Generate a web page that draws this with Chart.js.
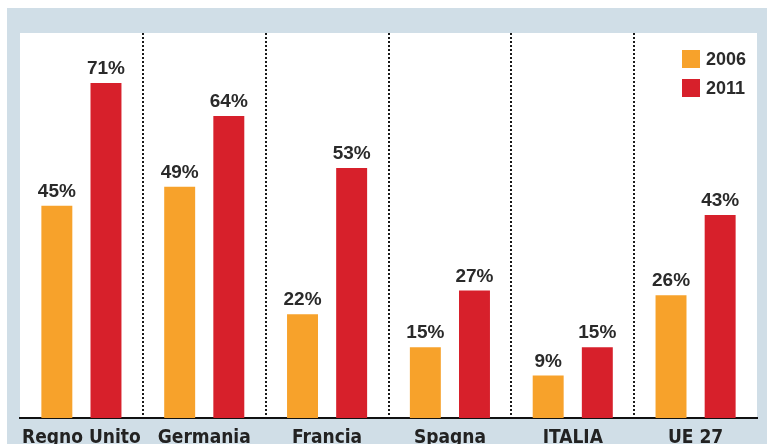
<!DOCTYPE html>
<html>
<head>
<meta charset="utf-8">
<script src="https://cdn.jsdelivr.net/npm/chart.js@4"></script>
<style>
  html, body { margin: 0; padding: 0; background: #ffffff; }
  canvas { display: block; }
</style>
</head>
<body>
<canvas id="c" width="767" height="444"></canvas>
<script>
const categories = ["Regno Unito", "Germania", "Francia", "Spagna", "ITALIA", "UE 27"];
const values2006 = [45, 49, 22, 15, 9, 26];
const values2011 = [71, 64, 53, 27, 15, 43];
const seriesLabels = ["2006", "2011"];
const seriesColors = ["#f7a22b", "#d7202b"];

const BLUE = "#d0dee7";
const TEXT = "#2a2a2a";
const numFont = "bold 19px 'Liberation Sans', Arial, sans-serif";
const legFont = "bold 18px 'Liberation Sans', Arial, sans-serif";
const catFontFamily = "'Liberation Sans Narrow', 'DejaVu Sans Condensed', 'Liberation Sans', sans-serif";

const bgPlugin = {
  id: "bg",
  beforeDraw(chart) {
    const {ctx, chartArea: a, width, height} = chart;
    ctx.save();
    ctx.fillStyle = "#ffffff";
    ctx.fillRect(0, 0, width, height);
    ctx.fillStyle = BLUE;
    ctx.fillRect(7, 8, width - 7, height - 8);
    ctx.fillStyle = "#ffffff";
    ctx.fillRect(a.left, a.top, a.right - a.left, a.bottom - a.top);
    ctx.restore();
  }
};

const labelPlugin = {
  id: "vals",
  afterDatasetsDraw(chart) {
    const {ctx} = chart;
    ctx.save();
    ctx.font = numFont;
    ctx.fillStyle = TEXT;
    ctx.textAlign = "center";
    ctx.textBaseline = "alphabetic";
    chart.data.datasets.forEach((ds, di) => {
      const meta = chart.getDatasetMeta(di);
      meta.data.forEach((bar, i) => {
        ctx.fillText(ds.data[i] + "%", bar.x, bar.y - 9);
      });
    });
    ctx.restore();
  }
};

const legendPlugin = {
  id: "leg",
  afterDraw(chart) {
    const {ctx} = chart;
    ctx.save();
    ctx.font = legFont;
    ctx.textBaseline = "middle";
    ctx.textAlign = "left";
    chart.data.datasets.forEach((ds, di) => {
      const y = 50 + di * 29;
      ctx.fillStyle = ds.backgroundColor;
      ctx.fillRect(682, y, 18, 18);
      ctx.fillStyle = TEXT;
      ctx.fillText(ds.label, 706, y + 10);
    });
    ctx.restore();
  }
};

new Chart(document.getElementById("c"), {
  type: "bar",
  data: {
    labels: categories,
    datasets: [
      { label: seriesLabels[0], data: values2006, backgroundColor: seriesColors[0] },
      { label: seriesLabels[1], data: values2011, backgroundColor: seriesColors[1] }
    ]
  },
  options: {
    responsive: false,
    animation: false,
    devicePixelRatio: 1,
    categoryPercentage: 0.8,
    barPercentage: 0.63,
    layout: { padding: { left: 20, right: 10, top: 33, bottom: 0 } },
    plugins: { legend: { display: false }, tooltip: { enabled: false } },
    scales: {
      x: {
        offset: true,
        afterFit(scale) { scale.height = 26; scale.paddingLeft = 0; scale.paddingRight = 0; },
        grid: {
          offset: true,
          drawTicks: false,
          lineWidth: 2,
          color: (c) => (c.type !== "tick" || c.index === 0) ? "rgba(0,0,0,0)" : "#1a1a1a"
        },
        border: { display: true, color: "#111111", width: 2, dash: [2, 2] },
        ticks: {
          padding: 9,
          color: "#222222",
          autoSkip: false,
          maxRotation: 0,
          minRotation: 0,
          font: { family: catFontFamily, size: 19, weight: "bold" }
        }
      },
      y: {
        display: false,
        min: 0,
        max: 81.6
      }
    }
  },
  plugins: [bgPlugin, labelPlugin, legendPlugin]
});
</script>
</body>
</html>
